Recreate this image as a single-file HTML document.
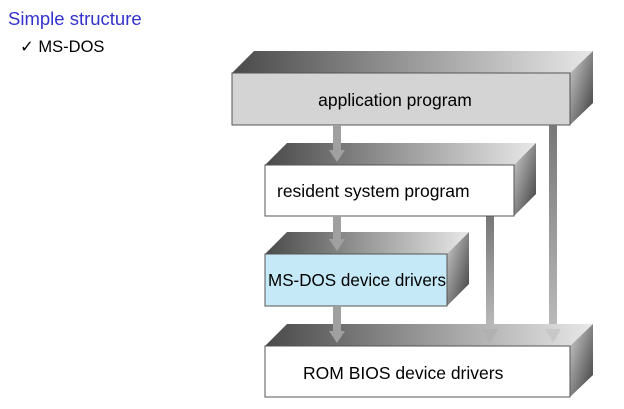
<!DOCTYPE html>
<html><head><style>
body{margin:0;width:624px;height:409px;background:#fff;overflow:hidden;font-family:"Liberation Sans",sans-serif}
</style></head><body>
<svg width="624" height="409" xmlns="http://www.w3.org/2000/svg" style="position:absolute;left:0;top:0">
<defs>
<linearGradient id="top" x1="0" y1="0" x2="1" y2="0">
<stop offset="0" stop-color="#4a4a4a"/><stop offset="0.5" stop-color="#9a9a9a"/><stop offset="1" stop-color="#e8e8e8"/></linearGradient>
<linearGradient id="side" x1="0" y1="0" x2="1" y2="1">
<stop offset="0" stop-color="#d0d0d0"/><stop offset="1" stop-color="#3a3a3a"/></linearGradient>
<linearGradient id="arr" x1="0" y1="0" x2="0" y2="1">
<stop offset="0" stop-color="#777"/><stop offset="1" stop-color="#bbb"/></linearGradient>
</defs>
<text x="8" y="25" font-size="18.5" fill="#3333cc">Simple structure</text>
<text x="20" y="52" font-size="16.5" fill="#000">✓ MS-DOS</text>

<polygon points="232,73 254,51 593,51 570,73" fill="url(#top)"/>
<polygon points="570,73 593,51 593,103 570,125" fill="url(#side)"/>
<rect x="232" y="73" width="338" height="52" fill="#d4d4d4" stroke="#555" stroke-width="1"/>
<text x="395" y="106" font-size="17.5" text-anchor="middle">application program</text>

<rect x="549" y="125" width="8" height="205" fill="url(#arr)"/>
<rect x="486" y="216" width="8" height="114" fill="url(#arr)"/>

<polygon points="265,165 287,143 536,143 514,165" fill="url(#top)"/>
<polygon points="514,165 536,143 536,194 514,216" fill="url(#side)"/>
<rect x="265" y="165" width="249" height="51" fill="#fff" stroke="#555"/>
<text x="277" y="197" font-size="17.5">resident system program</text>

<polygon points="265,254 287,232 469,232 447,254" fill="url(#top)"/>
<polygon points="447,254 469,232 469,284 447,306" fill="url(#side)"/>
<rect x="265" y="254" width="182" height="52" fill="#c6e9f7" stroke="#555"/>
<text x="268" y="286" font-size="17.5" textLength="178" lengthAdjust="spacingAndGlyphs">MS-DOS device drivers</text>

<polygon points="265,346 287,324 593,324 570,346" fill="url(#top)"/>
<polygon points="570,346 593,324 593,375 570,397" fill="url(#side)"/>
<rect x="265" y="346" width="305" height="51" fill="#fff" stroke="#555"/>
<text x="303" y="379" font-size="17.5">ROM BIOS device drivers</text>

<g fill="#a0a0a0">
<rect x="333" y="125" width="8" height="26"/><polygon points="329,150 345,150 337,162"/>
<rect x="333" y="216" width="8" height="24"/><polygon points="329,239 345,239 337,251"/>
<rect x="333" y="306" width="8" height="26"/><polygon points="329,331 345,331 337,343"/>
<polygon points="482,329 498,329 490,343" fill="#b0b0b0"/>
<polygon points="545,329 561,329 553,343" fill="#c8c8c8"/>
</g>
</svg>
</body></html>
